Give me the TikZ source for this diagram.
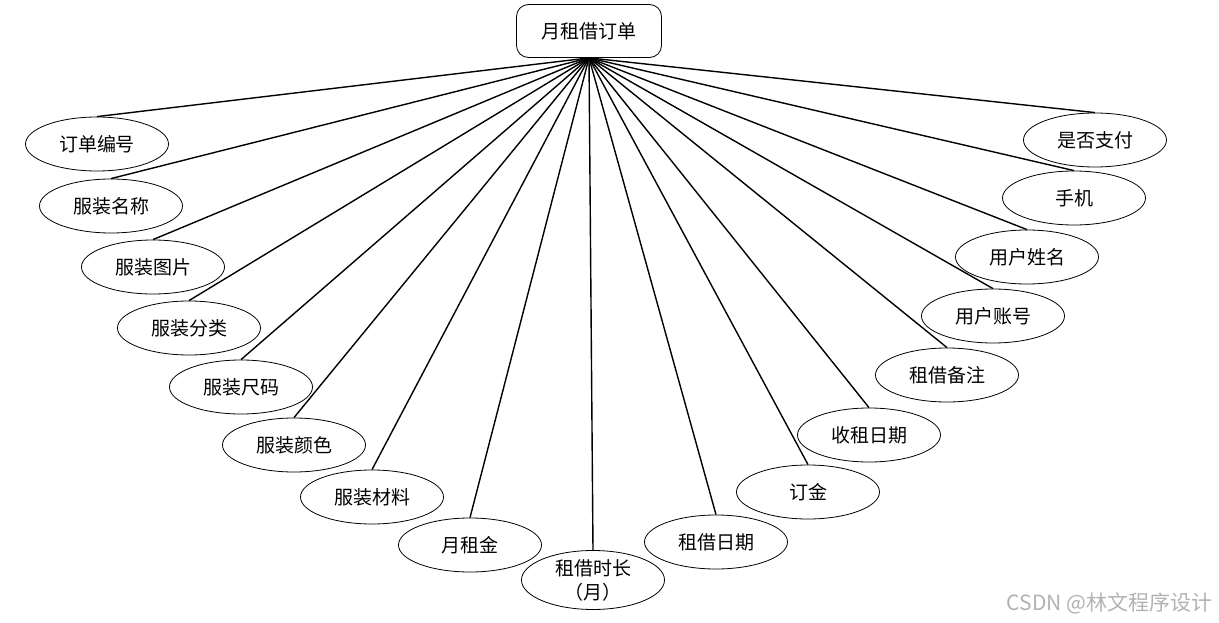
\documentclass[tikz,border=0pt]{standalone}
\usepackage{fontspec}
\setmainfont{Noto Sans CJK SC}
\newfontfamily\wmfont{Noto Sans CJK SC}
\usetikzlibrary{shapes.geometric}

\tikzset{
    attr/.style={draw, ellipse, line width=0.8pt, minimum width=143pt, minimum height=54pt, inner sep=0pt, font=\fontsize{19}{24}\selectfont, align=center},
    entity/.style={draw, rounded corners=12pt, line width=0.8pt, minimum width=145pt, minimum height=53pt, font=\fontsize{19}{22}\selectfont},
    link/.style={line width=1.4pt}
}

\begin{document}
\begin{tikzpicture}[x=1pt, y=-1pt]
        \useasboundingbox (0,0) rectangle (1219,623);
        \node[entity] (hub) at (589,31) {月租借订单};
        % attributes, left to right
        \foreach \x/\y/\t [count=\i from 1] in {97/144/订单编号, 111/206/服装名称, 153/267/服装图片,
            189/328/服装分类, 241/387/服装尺码, 294/445/服装颜色, 372/497/服装材料, 470/545/月租金,
            593/580/{租借时长\\（月）}, 716/542/租借日期, 808/492/订金, 869/435/收租日期,
            947/375/租借备注, 993/316/用户账号, 1027/257/用户姓名, 1074/198/手机, 1095/140/是否支付} {
            \node[attr] (a\i) at (\x,\y) {\t};
            \draw[link] (hub.south) -- (a\i.north);
        }
        \node[gray!60, anchor=east] (mark) at (1216,603) {\wmfont\fontsize{21}{24}\selectfont CSDN @林文程序设计};
    \end{tikzpicture}
\end{document}
